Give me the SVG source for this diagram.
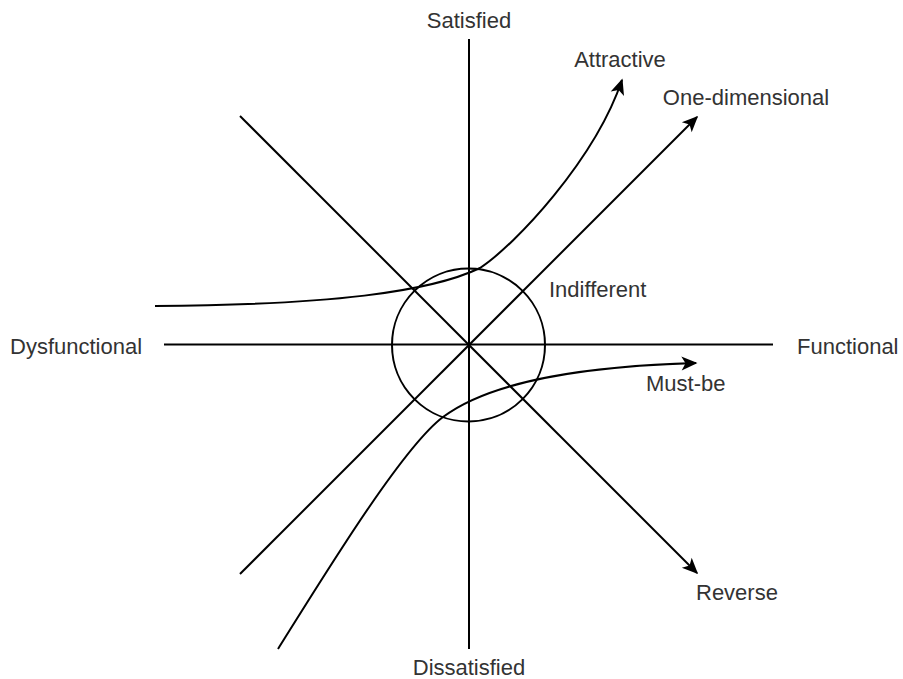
<svg xmlns="http://www.w3.org/2000/svg" width="903" height="679" viewBox="0 0 903 679">
<style>
.ln{fill:none;stroke:#000;stroke-width:2;}
.lb{font-family:"Liberation Sans",Arial,sans-serif;font-size:22px;fill:#333;}
.mid{text-anchor:middle;}
</style>
<defs>
<marker id="arr" markerUnits="userSpaceOnUse" markerWidth="18" markerHeight="16" viewBox="-16 -8 18 16" refX="0" refY="0" orient="auto">
<path d="M1.5,0 L-14.5,-7 L-10.5,0 L-14.5,7 Z" fill="#000"/>
</marker>
</defs>
<rect width="903" height="679" fill="#fff"/>
<g id="axes">
<line class="ln" x1="469" y1="39" x2="469" y2="649"/>
<line class="ln" x1="164" y1="344.5" x2="773" y2="344.5"/>
</g>
<g id="indifferent">
<circle class="ln" cx="468.5" cy="345" r="76.5"/>
<text class="lb" x="549" y="297">Indifferent</text>
</g>
<g id="connectors">
<line id="reverse-line" class="ln" x1="240" y1="116" x2="697" y2="573" marker-end="url(#arr)"/>
<line id="one-dim-line" class="ln" x1="240" y1="574" x2="697" y2="117" marker-end="url(#arr)"/>
<path id="attractive-curve" class="ln" d="M155,306 C330,305 430,292 480,268 C515,245 595,160 622,80" marker-end="url(#arr)"/>
<path id="mustbe-curve" class="ln" d="M278,649 C328,569 403,447 443,417 C495,378 596,366 696,363" marker-end="url(#arr)"/>
</g>
<g id="labels">
<text class="lb mid" x="469" y="28">Satisfied</text>
<text class="lb mid" x="469" y="675">Dissatisfied</text>
<text class="lb" x="797" y="354">Functional</text>
<text class="lb" x="10" y="354">Dysfunctional</text>
<text class="lb mid" x="620" y="67">Attractive</text>
<text class="lb mid" x="746" y="105">One-dimensional</text>
<text class="lb" x="646" y="391">Must-be</text>
<text class="lb" x="696" y="600">Reverse</text>
</g>
</svg>
